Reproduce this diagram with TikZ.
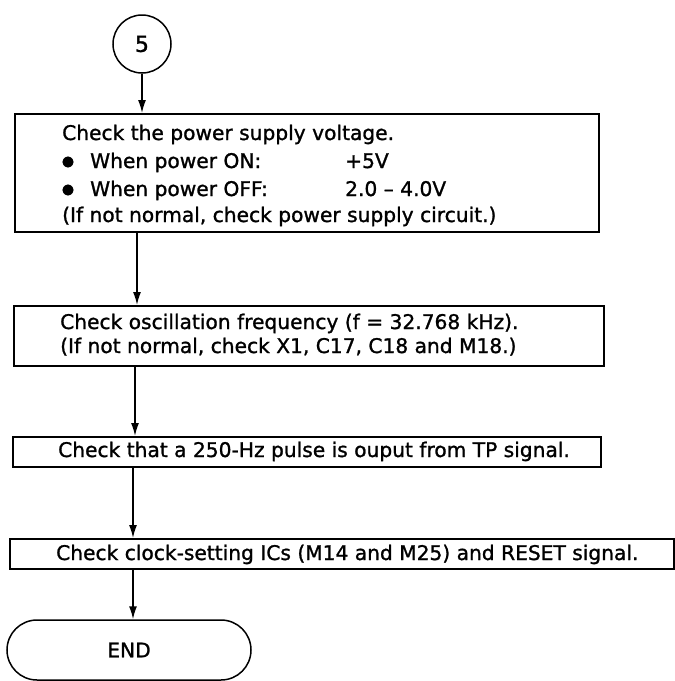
\documentclass[tikz,border=0pt]{standalone}
\usepackage{fontspec}
\setmainfont[FakeBold=1.2]{DejaVu Sans}
\usetikzlibrary{arrows.meta,calc}
\tikzset{
  box/.style={draw, line width=1.5pt, inner sep=0pt, anchor=north west},
  txt/.style={anchor=base west, inner sep=0pt, font=\fontsize{20.2pt}{24pt}\selectfont},
  bul/.style={inner sep=0pt, font=\fontsize{14pt}{16pt}\selectfont},
  arr/.style={line width=1.5pt, -{Latex[length=13pt,width=8pt]}},
}
\begin{document}
\begin{tikzpicture}[x=1pt,y=-1pt]
\useasboundingbox (0,0) rectangle (675,681);
% start connector
\node[circle, draw, line width=1.5pt, minimum size=58pt, inner sep=0pt,
      font=\fontsize{22pt}{26pt}\selectfont] (c5) at (142,44) {5};
% boxes
\node[box, minimum width=584pt, minimum height=118pt] (b1) at (14,113) {};
\node[box, minimum width=590pt, minimum height=60pt] (b2) at (13,305) {};
\node[box, minimum width=588pt, minimum height=30pt] (b3) at (12,436) {};
\node[box, minimum width=664pt, minimum height=30pt] (b4) at (9,538) {};
\node[draw, line width=1.5pt, rounded corners=30pt, minimum width=244pt,
      minimum height=60pt, inner sep=0pt,
      font=\fontsize{20.2pt}{24pt}\selectfont] (end) at (129,650) {END};
% box 1 texts
\node[txt] (t11) at (62,140) {Check the power supply voltage.};
\node[bul] (d12) at (68,162) {●};
\node[txt] (t12) at (90,168) {When power ON:};
\node[txt] (v12) at (345,168) {+5V};
\node[bul] (d13) at (68,190) {●};
\node[txt] (t13) at (90,196) {When power OFF:};
\node[txt] (v13) at (345,196) {2.0 \textendash{} 4.0V};
\node[txt] (t14) at (62,222) {(If not normal, check power supply circuit.)};
% box 2 texts
\node[txt] (t21) at (60,329) {Check oscillation frequency (f = 32.768 kHz).};
\node[txt] (t22) at (60,353) {(If not normal, check X1, C17, C18 and M18.)};
% box 3 text
\node[txt] (t31) at (58,457) {Check that a 250-Hz pulse is ouput from TP signal.};
% box 4 text
\node[txt] (t41) at (56,560) {Check clock-setting ICs (M14 and M25) and RESET signal.};
% connector x positions
\coordinate (x2) at (137,0);
\coordinate (x3) at (135,0);
\coordinate (x4) at (133,0);
% arrows
\draw[arr] (c5.south) -- (b1.north -| c5.south);
\draw[arr] (b1.south -| x2) -- (b2.north -| x2);
\draw[arr] (b2.south -| x3) -- (b3.north -| x3);
\draw[arr] (b3.south -| x4) -- (b4.north -| x4);
\draw[arr] (b4.south -| x4) -- (end.north -| x4);
\end{tikzpicture}
\end{document}
